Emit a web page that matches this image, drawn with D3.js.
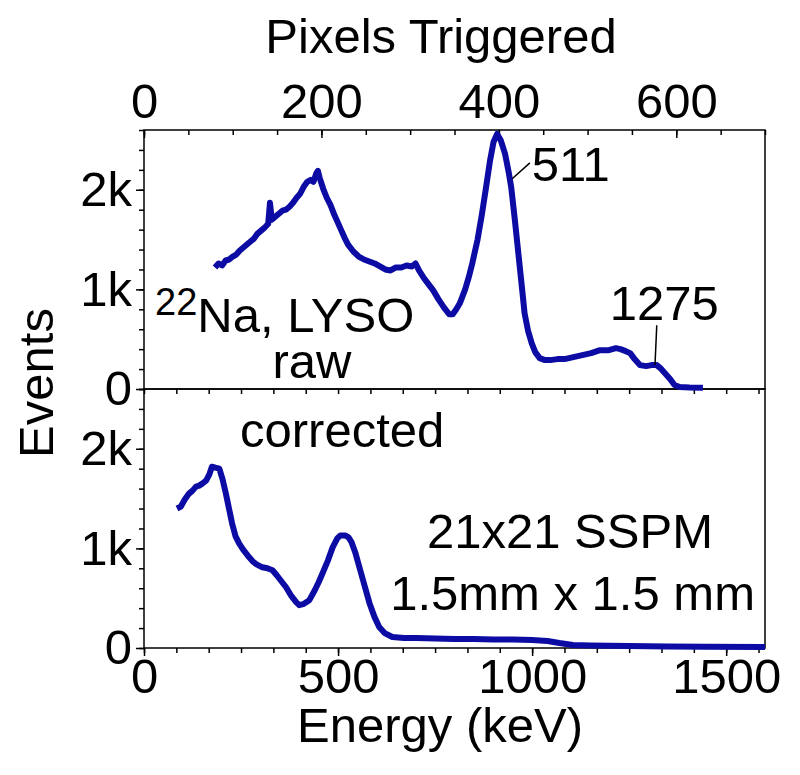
<!DOCTYPE html>
<html>
<head>
<meta charset="utf-8">
<script src="https://cdn.jsdelivr.net/npm/d3@7"></script>
<style>
  body { margin: 0; background: #fff; }
  text { font-family: "Liberation Sans", Arial, sans-serif; fill: #000; }
</style>
</head>
<body>
<svg id="chart"></svg>
<script>
// raw spectrum, x in pixels triggered
const rawPixels = [80, 84, 88, 92, 96, 100, 104, 108, 112, 116, 120, 124, 128, 132, 136, 140, 142, 144, 148, 152,
  156, 160, 164, 168, 172, 176, 180, 184, 188, 191, 194, 196, 198, 202, 206, 210, 214, 218, 222, 226,
  230, 236, 242, 248, 254, 260, 266, 272, 278, 284, 290, 296, 302, 306, 310, 315, 320, 326, 332, 338,
  344, 348, 352, 356, 362, 366, 370, 376, 381, 386, 390, 394, 398, 402, 407, 411, 414, 418, 422, 426,
  429, 433, 437, 441, 446, 452, 458, 466, 474, 484, 494, 504, 514, 524, 532, 537, 543, 548, 553, 559,
  566, 572, 578, 582, 587, 593, 598, 604, 615, 630];
const rawEvents = [1220, 1260, 1240, 1290, 1300, 1330, 1350, 1390, 1420, 1450, 1480, 1510, 1560, 1590, 1620, 1660, 1870, 1700, 1730, 1760,
  1790, 1800, 1830, 1870, 1920, 1960, 2030, 2080, 2100, 2080, 2160, 2190, 2120, 2010, 1920, 1850, 1760, 1680, 1600, 1520,
  1450, 1380, 1330, 1300, 1280, 1260, 1230, 1200, 1190, 1220, 1220, 1240, 1230, 1260, 1190, 1120, 1060, 990, 900, 820,
  750, 750, 800, 860, 1000, 1120, 1260, 1500, 1760, 2050, 2290, 2480, 2560, 2500, 2360, 2180, 2020, 1700, 1360, 1020,
  760, 580, 460, 370, 310, 290, 290, 300, 300, 320, 340, 360, 390, 390, 410, 400, 380, 360, 300, 240,
  230, 240, 240, 210, 160, 100, 40, 20, 15, 12];

// corrected spectrum, x in keV
const corrEnergy = [85, 95, 105, 116, 125, 134, 142, 150, 160, 168, 175, 184, 194, 202, 211, 219, 227, 236, 245, 255,
  263, 271, 280, 290, 305, 318, 331, 342, 354, 366, 380, 392, 400, 410, 418, 426, 440, 450, 460, 474,
  486, 498, 506, 518, 527, 535, 545, 555, 568, 581, 594, 606, 620, 640, 670, 702, 750, 800, 850, 900,
  950, 1000, 1040, 1070, 1105, 1150, 1250, 1350, 1450, 1600];
const corrEvents = [1400, 1420, 1490, 1550, 1580, 1620, 1630, 1650, 1680, 1740, 1820, 1810, 1800, 1700, 1550, 1400, 1250, 1120, 1050, 990,
  950, 910, 870, 840, 810, 800, 780, 730, 670, 610, 520, 460, 430, 440, 460, 480, 580, 660, 750, 880,
  1010, 1100, 1130, 1130, 1110, 1060, 950, 810, 630, 450, 310, 210, 150, 110, 100, 100, 95, 90, 90, 85,
  85, 80, 70, 50, 30, 25, 20, 15, 12, 10];

const pixTicks = d3.range(0, 701, 50);
const pixLabels = [0, 200, 400, 600];
const keVTicks = d3.range(0, 20).map(i => i * 500 / 6).filter(d => d <= 1600);
const keVLabels = [0, 500, 1000, 1500];
const evTicks = d3.range(0, 2601, 200);
const evLabels = [0, 1000, 2000];

// peak markers on the raw panel: line from (px, ev) to (px, ev), text at (px, ev)
const peakNotes = [
  { label: "511", x1: 415, y1: 2110, x2: 435, y2: 2270, tx: 437, ty: 2090 },
  { label: "1275", x1: 576, y1: 240, x2: 578, y2: 640, tx: 525, ty: 690 }
];

const W = 800, H = 775;
const L = 144, R = 765, T = 130, M = 389, B = 648;
const fs = 49;
const blue = "#0c0ca4";

const svg = d3.select("#chart").attr("width", W).attr("height", H);

const xPix = d3.scaleLinear().domain([0, 700]).range([L, R]);
const xE = d3.scaleLinear().domain([0, 1600]).range([L, R]);
const yTop = d3.scaleLinear().domain([0, 2600]).range([M, T]);
const yBot = d3.scaleLinear().domain([0, 2600]).range([B, M]);

const kFmt = d => d === 0 ? "0" : (d / 1000) + "k";

function styleAxis(g) {
  g.select(".domain").remove();
  g.selectAll("line").attr("stroke", "#000").attr("stroke-width", 1.5);
  g.selectAll("text").attr("font-size", fs).attr("font-family", "Liberation Sans, Arial, sans-serif");
}

// left axes (minor + labelled major)
[yTop, yBot].forEach(y => {
  svg.append("g").attr("transform", `translate(${L},0)`)
    .call(d3.axisLeft(y).tickValues(evTicks).tickSize(5).tickFormat(""))
    .call(styleAxis);
  svg.append("g").attr("transform", `translate(${L},0)`)
    .call(d3.axisLeft(y).tickValues(evLabels).tickSize(8).tickPadding(4).tickFormat(kFmt))
    .call(styleAxis);
});

// top pixel axis, ticks inward
svg.append("g").attr("transform", `translate(0,${T})`)
  .call(d3.axisTop(xPix).tickValues(pixTicks).tickSize(-5).tickFormat(""))
  .call(styleAxis);
svg.append("g").attr("transform", `translate(0,${T})`)
  .call(d3.axisTop(xPix).tickValues(pixLabels).tickSize(-8).tickPadding(12).tickFormat(d3.format("d")))
  .call(styleAxis);

// middle line ticks, pointing into lower panel
svg.append("g").attr("transform", `translate(0,${M})`)
  .call(d3.axisTop(xE).tickValues(keVTicks).tickSize(-5).tickFormat(""))
  .call(styleAxis);

// bottom energy axis, ticks outward
svg.append("g").attr("transform", `translate(0,${B})`)
  .call(d3.axisBottom(xE).tickValues(keVTicks).tickSize(5).tickFormat(""))
  .call(styleAxis);
svg.append("g").attr("transform", `translate(0,${B})`)
  .call(d3.axisBottom(xE).tickValues(keVLabels).tickSize(8).tickPadding(2).tickFormat(d3.format("d")))
  .call(styleAxis);

// frames
svg.append("rect").attr("x", L).attr("y", T).attr("width", R - L).attr("height", M - T)
  .attr("fill", "none").attr("stroke", "#000").attr("stroke-width", 1.5);
svg.append("rect").attr("x", L).attr("y", M).attr("width", R - L).attr("height", B - M)
  .attr("fill", "none").attr("stroke", "#000").attr("stroke-width", 1.5);

// spectra
const rawLine = d3.line().x(i => xPix(rawPixels[i])).y(i => yTop(rawEvents[i]));
svg.append("path").attr("d", rawLine(d3.range(rawPixels.length)))
  .attr("fill", "none").attr("stroke", blue).attr("stroke-width", 6).attr("stroke-linejoin", "round");

const corrLine = d3.line().x(i => xE(corrEnergy[i])).y(i => yBot(corrEvents[i]));
svg.append("path").attr("d", corrLine(d3.range(corrEnergy.length)))
  .attr("fill", "none").attr("stroke", blue).attr("stroke-width", 6).attr("stroke-linejoin", "round");

// peak annotations
peakNotes.forEach(n => {
  svg.append("line")
    .attr("x1", xPix(n.x1)).attr("y1", yTop(n.y1))
    .attr("x2", xPix(n.x2)).attr("y2", yTop(n.y2))
    .attr("stroke", "#000").attr("stroke-width", 1.5);
  svg.append("text").attr("x", xPix(n.tx)).attr("y", yTop(n.ty))
    .attr("font-size", fs).text(n.label);
});

// panel labels
const na = svg.append("text").attr("x", 155).attr("y", 332).attr("font-size", fs);
na.append("tspan").attr("font-size", 38).attr("dy", -17).text("22");
na.append("tspan").attr("dy", 17).text("Na, LYSO");
svg.append("text").attr("x", 312).attr("y", 378).attr("font-size", fs)
  .attr("text-anchor", "middle").text("raw");
svg.append("text").attr("x", 240).attr("y", 447).attr("font-size", fs).text("corrected");
svg.append("text").attr("x", 570).attr("y", 548).attr("font-size", fs)
  .attr("text-anchor", "middle").text("21x21 SSPM");
svg.append("text").attr("x", 755).attr("y", 610).attr("font-size", fs)
  .attr("text-anchor", "end").text("1.5mm x 1.5 mm");

// axis titles
svg.append("text").attr("x", 441).attr("y", 53).attr("font-size", fs)
  .attr("text-anchor", "middle").text("Pixels Triggered");
svg.append("text").attr("x", 440).attr("y", 742).attr("font-size", fs)
  .attr("text-anchor", "middle").text("Energy (keV)");
svg.append("text").attr("transform", "translate(53,383) rotate(-90)").attr("font-size", fs)
  .attr("text-anchor", "middle").text("Events");
</script>
</body>
</html>
